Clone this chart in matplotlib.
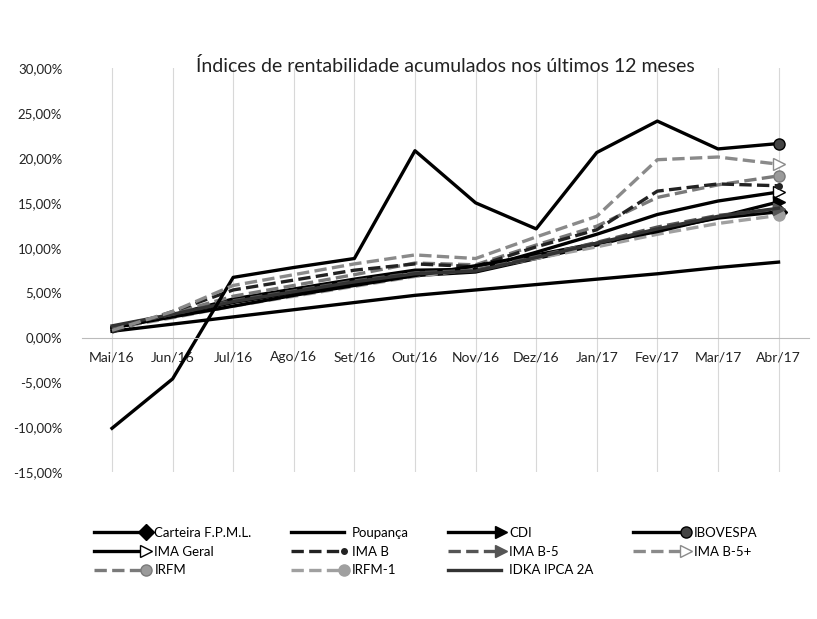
# Indices de rentabilidade acumulados - 12 meses (Mai/16 a Abr/17)
import matplotlib
matplotlib.use('Agg')
import matplotlib.pyplot as plt
from matplotlib.ticker import FuncFormatter
from matplotlib.legend_handler import HandlerLine2D

plt.rcParams['font.family'] = ['Lato', 'DejaVu Sans']

# Dados (% acumulado)
months = ['Mai/16', 'Jun/16', 'Jul/16', 'Ago/16', 'Set/16', 'Out/16',
          'Nov/16', 'Dez/16', 'Jan/17', 'Fev/17', 'Mar/17', 'Abr/17']

carteira = [1.1, 2.4, 3.9, 5.0, 6.0, 6.9, 7.3, 8.8, 10.3, 12.0, 13.3, 14.0]
poupanca = [0.7, 1.5, 2.3, 3.1, 3.9, 4.7, 5.3, 5.9, 6.5, 7.1, 7.8, 8.4]
cdi = [1.1, 2.3, 3.5, 4.7, 5.8, 6.9, 8.0, 9.2, 10.5, 11.8, 13.4, 15.1]
ibovespa = [-10.1, -4.6, 6.7, 7.8, 8.8, 20.8, 15.0, 12.1, 20.6, 24.1, 21.0, 21.6]
ima_geral = [1.0, 2.5, 4.3, 5.4, 6.5, 7.5, 7.6, 9.5, 11.5, 13.7, 15.2, 16.2]
ima_b = [0.6, 2.9, 5.3, 6.4, 7.5, 8.2, 7.9, 10.1, 12.0, 16.3, 17.1, 16.9]
ima_b5 = [1.2, 2.6, 4.1, 5.2, 6.3, 7.2, 7.5, 9.0, 10.6, 12.3, 13.6, 14.3]
ima_b5_mais = [0.8, 2.9, 5.8, 7.0, 8.2, 9.2, 8.8, 11.2, 13.5, 19.8, 20.1, 19.3]
irfm = [1.0, 2.7, 4.6, 5.8, 7.0, 8.3, 8.1, 10.3, 12.4, 15.6, 17.0, 18.0]
irfm1 = [1.0, 2.2, 3.5, 4.6, 5.7, 6.8, 7.6, 8.8, 10.1, 11.5, 12.7, 13.6]
idka = [1.3, 2.6, 4.0, 5.1, 6.2, 7.1, 7.4, 8.9, 10.5, 12.1, 13.5, 14.4]


class EndMarkerHandler(HandlerLine2D):
    # marcador so na ponta direita da linha da legenda (estilo Excel)
    def create_artists(self, legend, orig_handle, xdescent, ydescent, width,
                       height, fontsize, trans):
        artists = super().create_artists(legend, orig_handle, xdescent, ydescent,
                                         width, height, fontsize, trans)
        for a in artists:
            n = len(a.get_xdata())
            a.set_markevery([n - 1])
        return artists


fig = plt.figure(figsize=(8.17, 6.19), dpi=100)
ax = fig.add_axes([0.1, 0.237, 0.89, 0.653])

x = list(range(len(months)))

# (label, data, color, linestyle, end marker, marker face)
series = [
    ('Carteira F.P.M.L.', carteira, 'black', '-', 'D', 'black'),
    ('IMA Geral', ima_geral, 'black', '-', '>', 'white'),
    ('IRFM', irfm, '#7a7a7a', '--', 'o', '#9a9a9a'),
    ('Poupança', poupanca, 'black', '-', None, None),
    ('IMA B', ima_b, '#222222', '--', '.', '#222222'),
    ('IRFM-1', irfm1, '#a0a0a0', '--', 'o', '#a0a0a0'),
    ('CDI', cdi, 'black', '-', '>', 'black'),
    ('IMA B-5', ima_b5, '#555555', '--', '>', '#555555'),
    ('IDKA IPCA 2A', idka, '#333333', '-', None, None),
    ('IBOVESPA', ibovespa, 'black', '-', 'o', '#444444'),
    ('IMA B-5+', ima_b5_mais, '#8a8a8a', '--', '>', 'white'),
]

handles = []
for label, data, color, ls, mk, mfc in series:
    if mk is None:
        ln, = ax.plot(x, data, color=color, linestyle=ls, linewidth=2.4, label=label)
    else:
        ln, = ax.plot(x, data, color=color, linestyle=ls, linewidth=2.4, label=label,
                      marker=mk, markevery=[len(data) - 1], markersize=8,
                      markerfacecolor=mfc, markeredgecolor=color)
    handles.append(ln)

ax.set_xlim(-0.5, len(months) - 0.5)
ax.set_ylim(-15, 30)
ax.set_yticks(range(-15, 31, 5))
ax.yaxis.set_major_formatter(FuncFormatter(lambda v, p: f'{v:.2f}%'.replace('.', ',')))
ax.tick_params(axis='y', length=0, labelsize=9.5, colors='#222222', pad=14)

# eixo de categorias cruzando no zero
ax.spines['bottom'].set_position(('data', 0))
ax.spines['bottom'].set_color('#bbbbbb')
for s in ['top', 'right', 'left']:
    ax.spines[s].set_visible(False)
ax.set_xticks(x)
ax.set_xticklabels(months)
ax.tick_params(axis='x', length=0, labelsize=10, colors='#222222', pad=10)
ax.grid(axis='x', color='#d8d8d8', linewidth=0.8)
ax.set_axisbelow(True)

ax.set_title('Índices de rentabilidade acumulados nos últimos 12 meses',
             fontsize=14, y=0.97, color='#222222')

fig.legend(handles=handles, loc='lower left', bbox_to_anchor=(0.1, 0.05), ncol=4,
           frameon=False, fontsize=9.5, handlelength=4.0, handletextpad=0.6,
           columnspacing=3.0, labelspacing=0.5,
           handler_map={type(handles[0]): EndMarkerHandler(numpoints=1)})

fig.savefig('out.png', dpi=100)
